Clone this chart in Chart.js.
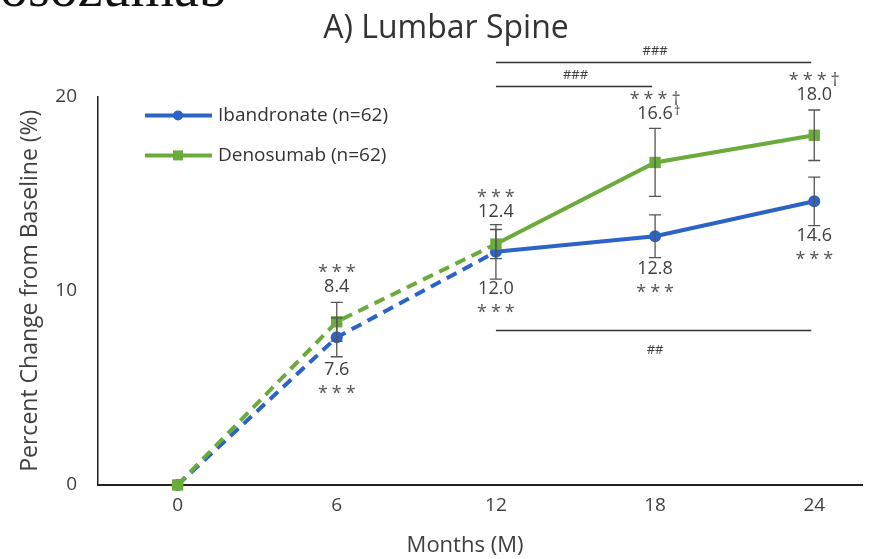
<!DOCTYPE html>
<html>
<head>
<meta charset="utf-8">
<script src="https://cdn.jsdelivr.net/npm/chart.js@4.4.1/dist/chart.umd.min.js"></script>
<style>
  html, body { margin: 0; padding: 0; background: #fff; }
  #wrap { position: relative; width: 874px; height: 559px; overflow: hidden; }
  #head {
    position: absolute; left: -109px; top: -41px;
    font: 56px "Liberation Serif", "DejaVu Serif", serif; line-height: 1;
    color: #111; white-space: nowrap;
  }
</style>
</head>
<body>
<div id="wrap">
  <canvas id="chart" width="874" height="559"></canvas>
  <div id="head">Romosozumab</div>
</div>
<script>
const months = ["0", "6", "12", "18", "24"];

const ibandronate = [0, 7.6, 12.0, 12.8, 14.6];
const denosumab = [0, 8.4, 12.4, 16.6, 18.0];

// standard error around each mean
const ibandronateErr = [0, 1.0, 1.4, 1.1, 1.25];
const denosumabErr = [0, 1.0, 0.75, 1.75, 1.3];

// significance vs baseline, written next to each value
const ibandronateSig = ["", "***", "***", "***", "***"];
const denosumabSig = ["", "***", "***", "***†", "***†"];
const denosumabMark = ["", "", "", "†", ""];

// between-group comparisons (from month, to month, level in %, text)
const bracketFrom = [12, 12, 12];
const bracketTo = [24, 18, 24];
const bracketLevel = [21.75, 20.55, 8.0];
const bracketText = ["###", "###", "##"];
const bracketBelow = [false, false, true];

const BLUE = "#2b63c6";
const GREEN = "#6aab3b";
const TEXT = "#404040";
const FONT = '"Open Sans", "Noto Sans", sans-serif';

const series = [
  { label: "Denosumab (n=62)", data: denosumab, err: denosumabErr, sig: denosumabSig, mark: denosumabMark, color: GREEN, style: "rect", above: true },
  { label: "Ibandronate (n=62)", data: ibandronate, err: ibandronateErr, sig: ibandronateSig, mark: null, color: BLUE, style: "circle", above: false }
];

const extras = {
  id: "extras",
  afterDatasetsDraw(chart) {
    const { ctx, scales: { x, y }, chartArea } = chart;
    ctx.save();

    // error bars
    ctx.strokeStyle = "#555";
    ctx.lineWidth = 1.3;
    series.forEach((s) => {
      s.data.forEach((v, i) => {
        const e = s.err[i];
        if (!e) return;
        const px = x.getPixelForValue(+months[i]);
        const top = y.getPixelForValue(v + e);
        const bot = y.getPixelForValue(v - e);
        ctx.beginPath();
        ctx.moveTo(px, top); ctx.lineTo(px, bot);
        ctx.moveTo(px - 6, top); ctx.lineTo(px + 6, top);
        ctx.moveTo(px - 6, bot); ctx.lineTo(px + 6, bot);
        ctx.stroke();
      });
    });

    // value and significance labels
    ctx.textAlign = "center";
    ctx.textBaseline = "middle";
    series.forEach((s) => {
      s.data.forEach((v, i) => {
        if (!s.sig[i]) return;
        const px = x.getPixelForValue(+months[i]);
        const py = y.getPixelForValue(v);
        let vy, sy;
        if (s.above) {
          vy = Math.min(y.getPixelForValue(v + s.err[i]) - 15, py - 32);
          sy = vy - 14;
        } else {
          vy = Math.max(y.getPixelForValue(v - s.err[i]) + 10, py + 33);
          sy = vy + 24;
        }
        const txt = v.toFixed(1);
        ctx.fillStyle = TEXT;
        ctx.font = "18px " + FONT;
        ctx.letterSpacing = "0px";
        ctx.fillText(txt, px, vy);
        if (s.mark && s.mark[i]) {
          const w = ctx.measureText(txt).width;
          ctx.font = "13px " + FONT;
          ctx.textAlign = "left";
          ctx.fillText(s.mark[i], px + w / 2 + 1, vy - 2);
          ctx.textAlign = "center";
        }
        ctx.fillStyle = "#555";
        ctx.font = "18px " + FONT;
        ctx.letterSpacing = "4px";
        ctx.fillText(s.sig[i], px + 2, sy);
      });
    });
    ctx.letterSpacing = "0px";

    // comparison brackets
    ctx.strokeStyle = "#333";
    ctx.fillStyle = TEXT;
    ctx.lineWidth = 1.5;
    ctx.font = "13px " + FONT;
    bracketText.forEach((t, k) => {
      const x0 = x.getPixelForValue(bracketFrom[k]);
      const x1 = x.getPixelForValue(bracketTo[k]);
      const ly = Math.round(y.getPixelForValue(bracketLevel[k])) + 0.5;
      ctx.beginPath();
      ctx.moveTo(x0, ly); ctx.lineTo(x1 - 3, ly);
      ctx.stroke();
      ctx.fillText(t, (x0 + x1) / 2, bracketBelow[k] ? ly + 20 : ly - 11);
    });

    // legend inside the plot
    const legendRows = [series[1], series[0]];
    legendRows.forEach((s, k) => {
      const lx = chartArea.left + 47;
      const ly = chartArea.top + 19 + k * 40;
      ctx.strokeStyle = s.color;
      ctx.lineWidth = 4;
      ctx.beginPath();
      ctx.moveTo(lx, ly); ctx.lineTo(lx + 67, ly);
      ctx.stroke();
      ctx.fillStyle = s.color;
      if (s.style === "circle") {
        ctx.beginPath();
        ctx.arc(lx + 33, ly, 5, 0, Math.PI * 2);
        ctx.fill();
      } else {
        ctx.fillRect(lx + 28, ly - 5, 10, 10);
      }
      ctx.fillStyle = "#333";
      ctx.textAlign = "left";
      ctx.font = "19px " + FONT;
      ctx.fillText(s.label, lx + 73, ly);
    });

    // x axis title
    ctx.fillStyle = TEXT;
    ctx.textAlign = "center";
    ctx.font = "22px " + FONT;
    ctx.fillText("Months (M)", (chartArea.left + chartArea.right) / 2 - 15, 546);

    ctx.restore();
  }
};

new Chart(document.getElementById("chart"), {
  type: "line",
  data: {
    labels: months,
    datasets: series.map((s) => ({
      label: s.label,
      data: s.data,
      borderColor: s.color,
      backgroundColor: s.color,
      borderWidth: 4,
      pointStyle: s.style,
      pointRadius: s.style === "rect" ? 8 : 6,
      pointBorderWidth: 0,
      tension: 0,
      clip: false,
      segment: {
        borderDash: (ctx) => (ctx.p1DataIndex <= 2 ? [11, 7] : undefined)
      }
    }))
  },
  options: {
    responsive: false,
    animation: false,
    devicePixelRatio: 1,
    layout: { padding: { left: 30, right: 12, top: 0, bottom: 0 } },
    plugins: {
      legend: { display: false },
      tooltip: { enabled: false },
      title: {
        display: true,
        text: "A) Lumbar Spine",
        color: "#333",
        font: { family: FONT, size: 32, weight: "normal" },
        padding: { top: 10, bottom: 48 }
      }
    },
    scales: {
      x: {
        type: "linear",
        min: -3,
        max: 25.8,
        afterBuildTicks: (s) => { s.ticks = months.map((m) => ({ value: +m })); },
        afterFit: (s) => { s.height = 74; },
        grid: { display: false, drawTicks: false },
        border: { display: true, color: "#222", width: 2 },
        ticks: { color: TEXT, padding: 9, font: { family: FONT, size: 19 } }
      },
      y: {
        min: 0,
        max: 20,
        afterFit: (s) => { s.width = 68; },
        grid: { display: false, drawTicks: false },
        border: { display: true, color: "#222", width: 1.5 },
        ticks: { stepSize: 10, color: TEXT, padding: 21, font: { family: FONT, size: 19 } },
        title: {
          display: true,
          text: "Percent Change from Baseline (%)",
          color: TEXT,
          font: { family: FONT, size: 23 },
          padding: { top: -13, bottom: 0 }
        }
      }
    }
  },
  plugins: [extras]
});
</script>
</body>
</html>
